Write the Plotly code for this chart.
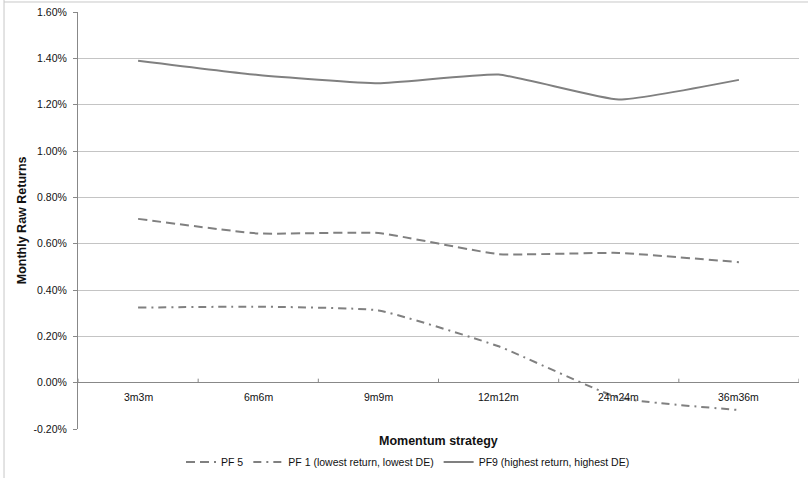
import plotly.graph_objects as go

# Momentum strategy formation/holding periods
categories = ["3m3m", "6m6m", "9m9m", "12m12m", "24m24m", "36m36m"]

# Monthly raw returns (in percent) per portfolio
pf5 = [0.707, 0.644, 0.646, 0.555, 0.560, 0.520]
pf1 = [0.324, 0.328, 0.312, 0.157, -0.065, -0.118]
pf9 = [1.390, 1.328, 1.292, 1.330, 1.222, 1.307]

series_names = ["PF 5", "PF 1 (lowest return, lowest DE)", "PF9 (highest return, highest DE)"]

y_ticks = [-0.2, 0.0, 0.2, 0.4, 0.6, 0.8, 1.0, 1.2, 1.4, 1.6]
y_tick_text = [f"{v:.2f}%" for v in y_ticks]

FONT = "Liberation Sans, Arial, sans-serif"
LINE = "#808080"
SMOOTH = 0.4
x_idx = list(range(len(categories)))

fig = go.Figure()
fig.add_trace(go.Scatter(
    x=x_idx, y=pf5, name=series_names[0], mode="lines",
    line=dict(color=LINE, width=2, dash="9px,5px", shape="spline", smoothing=SMOOTH),
))
fig.add_trace(go.Scatter(
    x=x_idx, y=pf1, name=series_names[1], mode="lines",
    line=dict(color=LINE, width=2, dash="8px,5px,2px,5px", shape="spline", smoothing=SMOOTH),
))
fig.add_trace(go.Scatter(
    x=x_idx, y=pf9, name=series_names[2], mode="lines",
    line=dict(color=LINE, width=2, shape="spline", smoothing=SMOOTH),
))

# Category labels sit just under the zero line
annotations = [
    dict(x=i, y=0, xref="x", yref="y", text=c, showarrow=False,
         yanchor="top", yshift=-6, font=dict(family=FONT, size=10.5, color="#111"))
    for i, c in enumerate(categories)
]
annotations.append(dict(
    x=0.5, y=-0.2, xref="paper", yref="y", text="<b>Momentum strategy</b>",
    showarrow=False, yanchor="top", yshift=-3,
    font=dict(family=FONT, size=12.5, color="#111"),
))
annotations.append(dict(
    x=-0.078, y=0.5, xref="paper", yref="paper", text="<b>Monthly Raw Returns</b>",
    showarrow=False, textangle=-90, xanchor="center",
    font=dict(family=FONT, size=12.5, color="#111"),
))

# Category boundary tick marks on the zero line
shapes = [
    dict(type="line", xref="x", yref="y", x0=i + 0.5, x1=i + 0.5,
         ysizemode="pixel", yanchor=0, y0=0, y1=4,
         line=dict(color="#888888", width=1))
    for i in range(-1, len(categories))
]
# Chart frame (left and top edges)
shapes.append(dict(type="line", xref="paper", yref="paper",
                   x0=-0.1026, x1=-0.1026, y0=-0.2, y1=1.03,
                   line=dict(color="#c8c8c8", width=1)))
shapes.append(dict(type="line", xref="paper", yref="paper",
                   x0=-0.1026, x1=1.02, y0=1.024, y1=1.024,
                   line=dict(color="#c8c8c8", width=1)))

fig.update_layout(
    width=808, height=478,
    margin=dict(l=78, r=9, t=12, b=49, autoexpand=False),
    paper_bgcolor="white", plot_bgcolor="white",
    font=dict(family=FONT, size=10.5, color="#111"),
    showlegend=True,
    legend=dict(
        orientation="h", x=0.4577, xanchor="center", y=-0.079, yanchor="middle",
        font=dict(family=FONT, size=10.5, color="#111"),
        bgcolor="rgba(0,0,0,0)", itemwidth=30, tracegroupgap=0,
    ),
    xaxis=dict(
        range=[-0.5, len(categories) - 0.5], showticklabels=False,
        showgrid=False, zeroline=False, showline=False, ticks="",
        fixedrange=True,
    ),
    yaxis=dict(
        range=[-0.2, 1.6], tickvals=y_ticks, ticktext=y_tick_text,
        showgrid=True, gridcolor="#c4c4c4", gridwidth=1,
        zeroline=True, zerolinecolor="#888888", zerolinewidth=1,
        showline=True, linecolor="#888888", linewidth=1,
        ticks="outside", ticklen=4, tickcolor="#888888",
        ticklabelstandoff=4,
        tickfont=dict(family=FONT, size=10.5, color="#111"),
        fixedrange=True,
    ),
    annotations=annotations,
    shapes=shapes,
)

fig.write_html("out.html")
